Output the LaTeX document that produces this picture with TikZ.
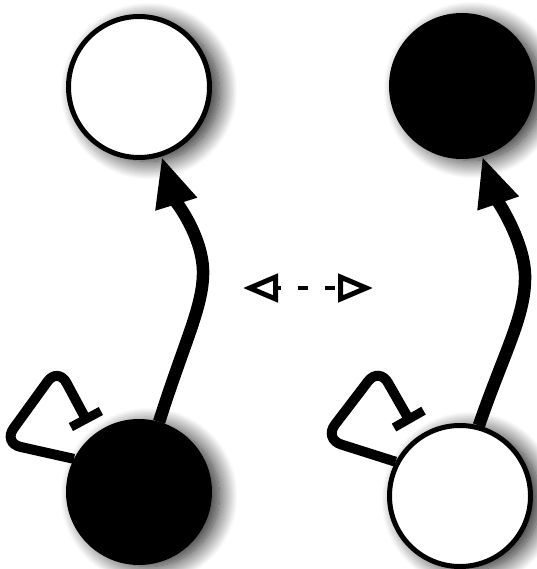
\documentclass[tikz,border=0pt]{standalone}
\usetikzlibrary{arrows.meta,shadows.blur}
\begin{document}
\begin{tikzpicture}[x=1pt,y=-1pt,
  statenode/.style={circle,draw=black,line width=5pt,minimum size=141pt,inner sep=0pt,
    blur shadow={shadow xshift=10pt,shadow yshift=-4pt,shadow blur radius=18pt,shadow blur steps=20,shadow opacity=90}},
  onstate/.style={statenode,fill=black},
  offstate/.style={statenode,fill=white},
  activate/.style={line width=12.5pt,-{Triangle[length=50pt,width=40pt]}},
  repress/.style={line width=10pt,rounded corners=18pt,-{Bar[width=34pt,line width=9pt]}},
  converts/.style={line width=4pt,dash pattern=on 10pt off 17pt,dash phase=6pt,
    {Triangle[open,length=35pt,width=28pt,line width=5pt]}-{Triangle[open,length=35pt,width=28pt,line width=5pt]}}
]
\useasboundingbox (0,0) rectangle (536,569);
\node[offstate] (tl) at (139,87) {};
\node[onstate]  (tr) at (462,86) {};
\node[onstate]  (bl) at (139,492) {};
\node[offstate] (br) at (460,496) {};

\coordinate (blbar) at (88,423);
\coordinate (brbar) at (411,423);
\coordinate (ml) at (243,288);
\coordinate (mr) at (373,288);

% activation arrows
\draw[activate] (bl.74) .. controls (185,340) and (204,305) .. (203,270)
  .. controls (202,235) and (175,200) .. (tl.-72);
\draw[activate] (br.75) .. controls (505,350) and (526,315) .. (525,275)
  .. controls (524,240) and (497,200) .. (tr.-74);

% self-repression loops
\draw[repress] (bl.153) -- (3,443) -- (58,367) -- (blbar);
\draw[repress] (br.152) -- (324,439) -- (379,367) -- (brbar);

% interconversion
\draw[converts] (ml) -- (mr);
\end{tikzpicture}
\end{document}
